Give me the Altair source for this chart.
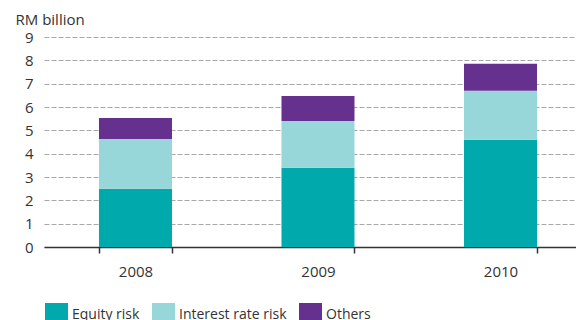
import altair as alt
import pandas as pd

# Market risk capital charge by risk type (RM billion)
years = ["2008", "2009", "2010"]
categories = ["Equity risk", "Interest rate risk", "Others"]
equity = [2.50, 3.40, 4.60]
interest = [2.13, 2.00, 2.10]
others = [0.90, 1.07, 1.15]
colors = ["#00A9AC", "#97D7D9", "#66308E"]
y_ticks = [0, 1, 2, 3, 4, 5, 6, 7, 8, 9]

rows = []
for i, yr in enumerate(years):
    for k, (cat, series) in enumerate(zip(categories, [equity, interest, others])):
        rows.append({"year": yr, "risk": cat, "value": series[i], "order": k})
df = pd.DataFrame(rows)

FONT = "Open Sans"
TXT = "#333333"

chart = (
    alt.Chart(df)
    .mark_bar()
    .encode(
        x=alt.X(
            "year:N",
            sort=years,
            scale=alt.Scale(paddingInner=0.6, paddingOuter=0.2575, align=0.585),
            axis=alt.Axis(
                title=None,
                labelAngle=0,
                tickBand="extent",
                tickSize=6,
                tickColor=TXT,
                tickWidth=1.5,
                domainColor=TXT,
                domainWidth=1.5,
                labelPadding=11,
                labelFont=FONT,
                labelFontSize=15,
                labelColor=TXT,
                grid=False,
            ),
        ),
        y=alt.Y(
            "value:Q",
            stack="zero",
            scale=alt.Scale(domain=[0, 9], nice=False),
            axis=alt.Axis(
                title="RM billion",
                titleAngle=0,
                titleAlign="left",
                titleBaseline="alphabetic",
                titleX=-29,
                titleY=-13,
                titleFont=FONT,
                titleFontSize=15,
                titleFontWeight="normal",
                titleColor=TXT,
                values=y_ticks,
                domain=False,
                ticks=False,
                labelPadding=11,
                labelFont=FONT,
                labelFontSize=15,
                labelColor=TXT,
                grid=True,
                gridColor="#a8a8a8",
                gridDash=[5, 2],
                gridWidth=1.2,
            ),
        ),
        color=alt.Color(
            "risk:N",
            scale=alt.Scale(domain=categories, range=colors),
            legend=alt.Legend(
                title=None,
                orient="none",
                legendX=1,
                legendY=266,
                direction="horizontal",
                symbolType="square",
                symbolSize=529,
                symbolStrokeWidth=0,
                symbolOpacity=1,
                labelFont=FONT,
                labelFontSize=14,
                labelColor=TXT,
                labelOffset=4,
                columnPadding=12,
                padding=0,
            ),
        ),
        order=alt.Order("order:Q"),
    )
    .properties(
        width=532,
        height=210,
        autosize=alt.AutoSizeParams(type="none"),
        padding={"left": 44, "top": 37, "right": 0, "bottom": 73},
    )
    .configure_view(stroke=None)
)

chart.save("out.html", embed_options={"renderer": "svg", "actions": False})
